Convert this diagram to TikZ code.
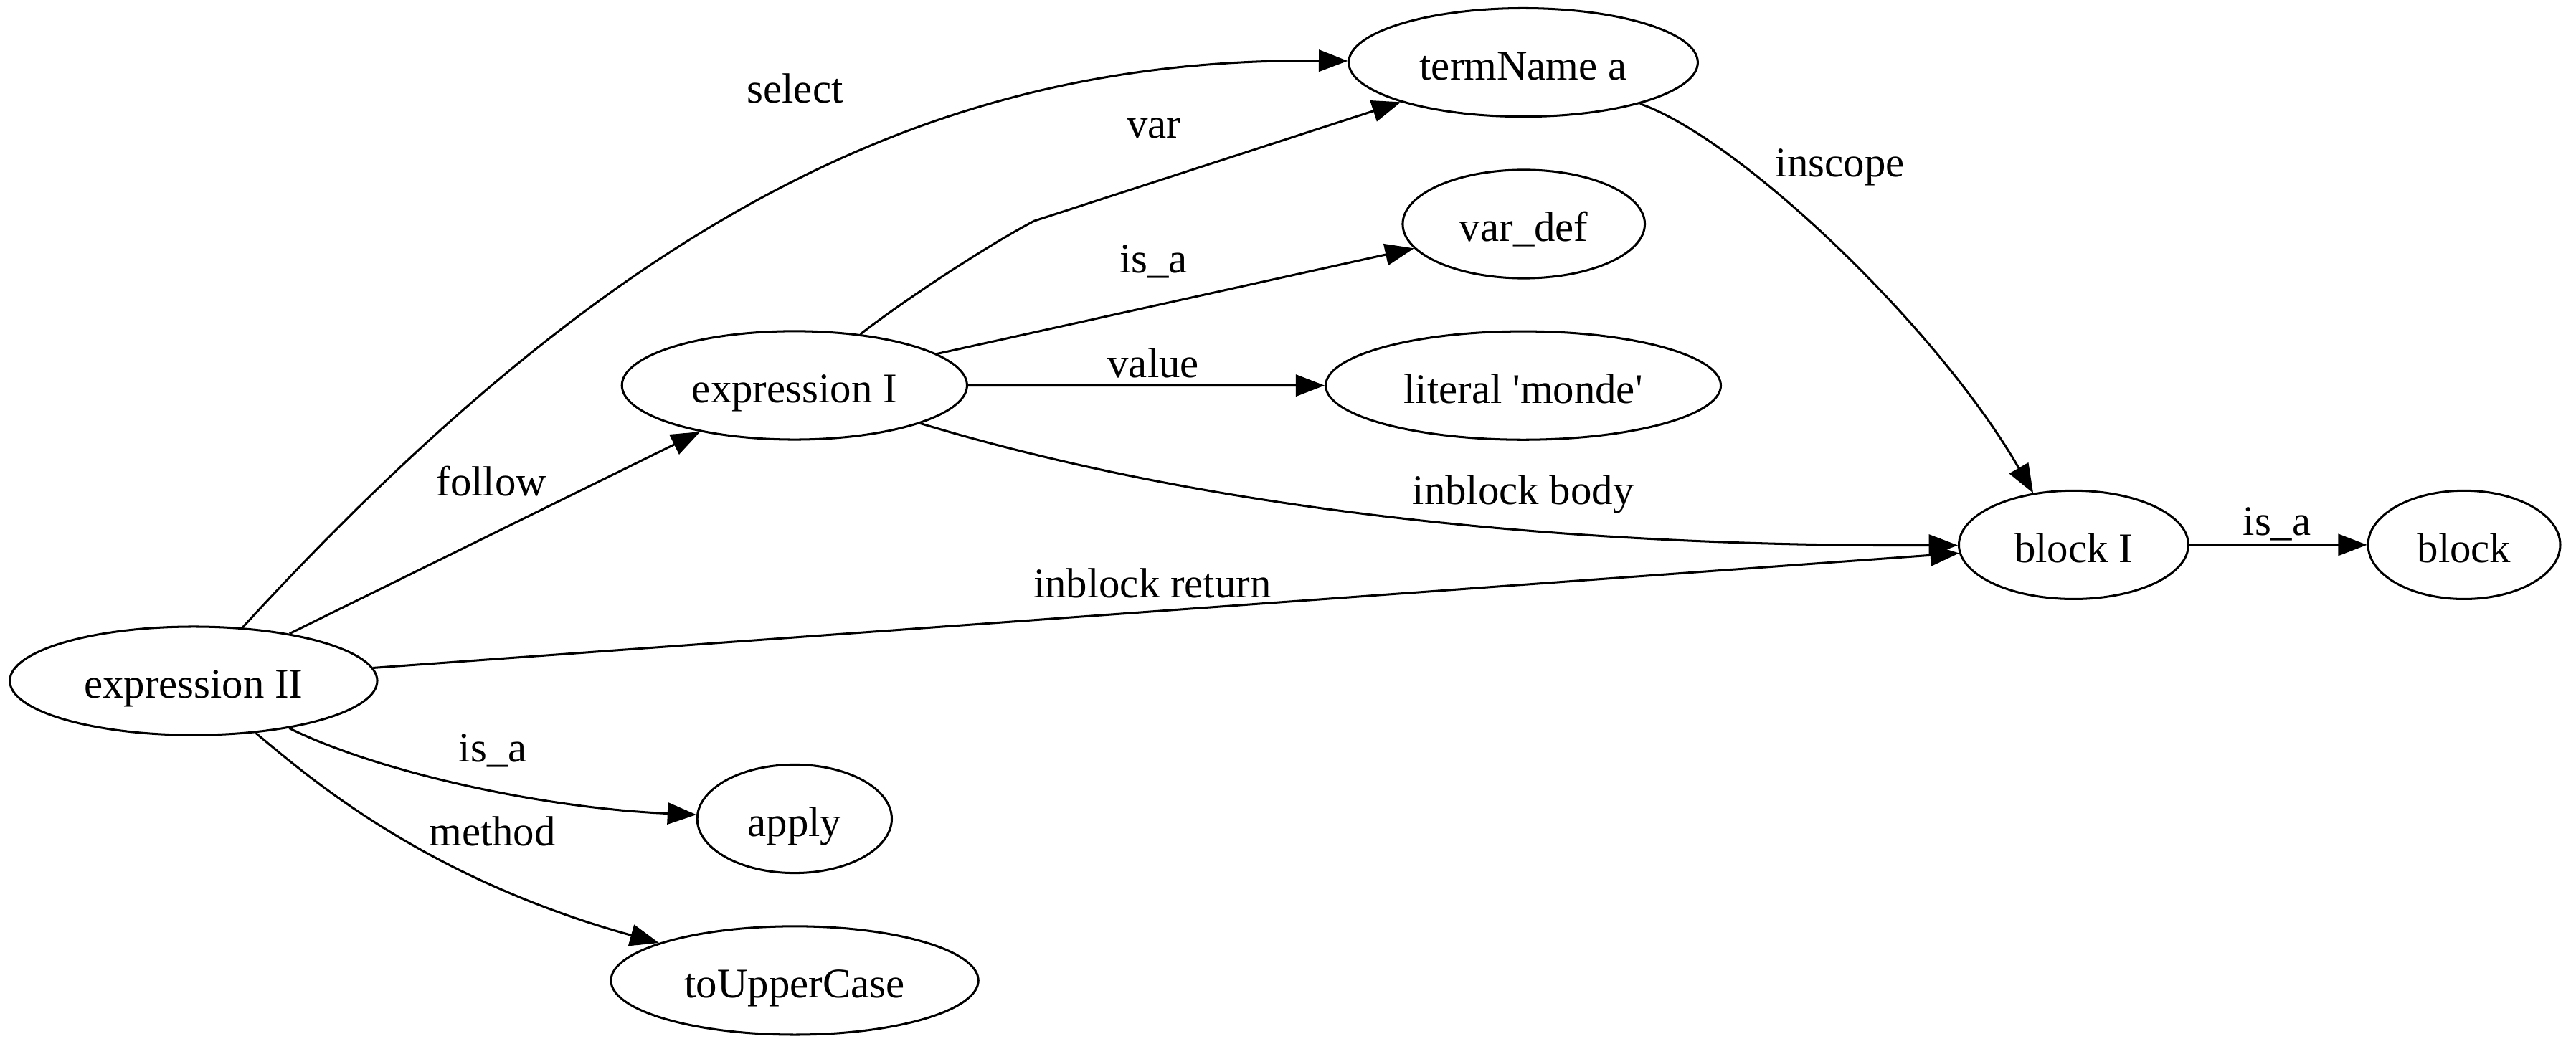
\documentclass[tikz,border=0pt]{standalone}
\usepackage{fontspec}
\setmainfont{Liberation Serif}
\usetikzlibrary{arrows.meta,shapes.geometric}

\begin{document}
\begin{tikzpicture}[x=0.5455pt,y=-0.5455pt,
  every node/.style={font=\fontsize{14pt}{16pt}\selectfont},
  term/.style={draw,ellipse,line width=0.72pt,inner sep=0pt,minimum height=36pt,text height=12pt,text depth=0.4pt},
  lbl/.style={anchor=base,inner sep=0pt},
  link/.style={-{Stealth[length=9.6pt,width=7.2pt,inset=0pt]},line width=0.72pt,color=black}]

\useasboundingbox (0,0) rectangle (1568,638.6);

%nodes of the tree
\node[term,minimum width=122pt]   (e2)  at (117.8,414.5) {expression II};
\node[term,minimum width=114.6pt] (e1)  at (483.6,234.6) {expression I};
\node[term,minimum width=115.9pt] (tn)  at (927.2,38)    {termName a};
\node[term,minimum width=80.4pt]  (vd)  at (927.5,136.4) {var\_def};
\node[term,minimum width=131.2pt] (lit) at (927.2,234.7) {literal \textquotesingle monde\textquotesingle};
\node[term,minimum width=76.2pt]  (bI)  at (1262.2,331.7) {block I};
\node[term,minimum width=63.8pt]  (blk) at (1499.9,331.7) {block};
\node[term,minimum width=64.6pt]  (app) at (483.6,498.5) {apply};
\node[term,minimum width=122pt]   (tuc) at (483.7,596.9) {toUpperCase};

%edges from expression II
\draw[link] (e2) .. controls (379,130) and (571,35) .. (tn);
\draw[link] (e2) -- (e1);
\draw[link] (e2) -- (bI);
\draw[link] (e2) .. controls (230,470) and (330,492) .. (app);
\draw[link] (e2) .. controls (190,475) and (260,535) .. (tuc);

%edges from expression I
\coordinate (vbend) at (629.5,134.5);
\draw[link] (e1) .. controls (550,183) and (600,150) .. (vbend) -- (tn);
\draw[link] (e1) -- (vd);
\draw[link] (e1) -- (lit);
\draw[link] (e1) .. controls (700,300) and (900,333) .. (bI);

%edges from termName a and block I
\draw[link] (tn) .. controls (1060,85) and (1180,200) .. (bI.128);
\draw[link] (bI) -- (blk);

%edge labels
\node[lbl] (lselect) at (483.9,62.6) {select};
\node[lbl] (lvar)    at (702.3,84.2) {var};
\node[lbl] (lisa1)   at (702.1,166)  {is\_a};
\node[lbl] (lvalue)  at (702,230)    {value};
\node[lbl] (lscope)  at (1120,107.7) {inscope};
\node[lbl] (lbody)   at (927.2,307)  {inblock body};
\node[lbl] (lisa2)   at (1386,325.7) {is\_a};
\node[lbl] (lreturn) at (701.4,364)  {inblock return};
\node[lbl] (lfollow) at (299.2,301.8) {follow};
\node[lbl] (lisa3)   at (300,463.8)  {is\_a};
\node[lbl] (lmethod) at (299.7,514.8) {method};

\end{tikzpicture}
\end{document}
